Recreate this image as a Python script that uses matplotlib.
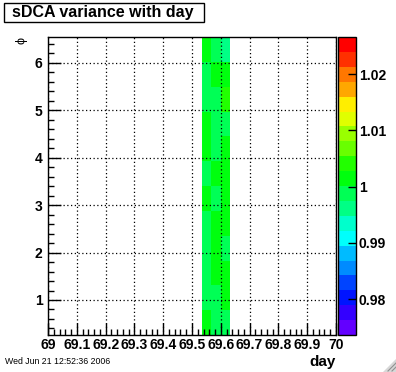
import numpy as np
import matplotlib
matplotlib.use('Agg')
import matplotlib.pyplot as plt
from matplotlib.colors import ListedColormap, BoundaryNorm, hsv_to_rgb
from matplotlib.ticker import FixedLocator, AutoMinorLocator
from matplotlib.patches import Rectangle, Polygon
from matplotlib.lines import Line2D

plt.rcParams['font.family'] = ['Liberation Sans', 'DejaVu Sans']

# data
day_edges = np.linspace(69, 70, 31)
phi_edges = np.pi / 12 + np.arange(13) * np.pi / 6
filled_cols = [16, 17, 18]          # day bins 69.533-69.633
# sDCA variance per phi bin (bottom -> top), one list per filled day bin
col_a = [1.0012, 0.9989, 0.9987, 0.9990, 0.9986, 1.0014, 0.9988, 1.0011, 1.0015, 0.9989, 0.9986, 1.0012]
col_b = [0.9990, 0.9987, 1.0013, 1.0016, 1.0010, 0.9988, 1.0014, 0.9986, 0.9989, 0.9991, 1.0015, 0.9989]
col_c = [0.9988, 1.0012, 1.0014, 0.9990, 1.0011, 1.0016, 1.0013, 1.0012, 0.9987, 1.0042, 1.0015, 0.9962]
zmin, zmax = 0.9736, 1.0266
xticks = [69.0, 69.1, 69.2, 69.3, 69.4, 69.5, 69.6, 69.7, 69.8, 69.9, 70.0]
xticklabels = ['69', '69.1', '69.2', '69.3', '69.4', '69.5', '69.6', '69.7', '69.8', '69.9', '70']
yticks = [1, 2, 3, 4, 5, 6]
zticks = [0.98, 0.99, 1.00, 1.01, 1.02]
zticklabels = ['0.98', '0.99', '1', '1.01', '1.02']

z = np.full((12, 30), np.nan)
for c, vals in zip(filled_cols, [col_a, col_b, col_c]):
    z[:, c] = vals
z = np.ma.masked_invalid(z)

# ROOT "pretty" palette, 20 contour levels
ncont = 20
cols = []
for k in range(ncont):
    idx = int((k + 0.99) * 50 / ncont)
    hue = 280 - (idx + 1) * 5.6
    cols.append(hsv_to_rgb([(hue % 360) / 360.0, 1.0, 1.0]))
cmap = ListedColormap(cols)
levels = np.linspace(zmin, zmax, ncont + 1)
norm = BoundaryNorm(levels, cmap.N)

W, H = 396, 372
fig = plt.figure(figsize=(W / 100, H / 100), dpi=100)
fx = lambda px: px / W
fy = lambda py: 1 - py / H

ax = fig.add_axes([fx(48), fy(335), 288 / W, 298 / H])
mesh = ax.pcolormesh(day_edges, phi_edges, z, cmap=cmap, norm=norm)
ax.set_xlim(69, 70)
ax.set_ylim(phi_edges[0], phi_edges[-1])

ax.xaxis.set_major_locator(FixedLocator(xticks))
ax.set_xticklabels(xticklabels)
ax.yaxis.set_major_locator(FixedLocator(yticks))
ax.xaxis.set_minor_locator(AutoMinorLocator(5))
ax.yaxis.set_minor_locator(AutoMinorLocator(5))
ax.tick_params(which='both', direction='in', width=1, colors='black', labelsize=10)
ax.tick_params(which='major', length=9)
ax.tick_params(which='minor', length=4.5)
ax.tick_params(axis='x', pad=2)
ax.tick_params(axis='y', pad=4)
for lab in ax.get_xticklabels() + ax.get_yticklabels():
    lab.set_fontweight('bold')
ax.grid(True, which='major', color='black', linestyle=(0, (1, 2)), linewidth=0.9)
ax.set_axisbelow(False)
for s in ax.spines.values():
    s.set_linewidth(1)

cax = fig.add_axes([fx(338), fy(335), 18 / W, 298 / H])
cb = fig.colorbar(mesh, cax=cax, ticks=zticks)
cb.ax.set_yticklabels(zticklabels)
cb.outline.set_linewidth(1)
cax.tick_params(which='both', direction='in', length=6, width=1, labelsize=10, pad=2)
cax.minorticks_off()
for lab in cax.get_yticklabels():
    lab.set_fontweight('bold')

# title box
fig.patches.append(Rectangle((fx(4), fy(22)), 200 / W, 19 / H, transform=fig.transFigure,
                             facecolor='white', edgecolor='black', linewidth=1))
fig.text(fx(12), fy(12.5), 'sDCA variance with day', fontsize=11.5, fontweight='bold',
         ha='left', va='center')

fig.text(fx(21), fy(41), 'ϕ', rotation=90, fontsize=9, ha='center', va='center')
fig.text(fx(336), fy(362), 'day', fontsize=11, fontweight='bold', ha='right', va='center')
fig.text(fx(5), fy(362), 'Wed Jun 21 12:52:36 2006', fontsize=6.3, ha='left', va='center')

# resize grip
fig.patches.append(Polygon([(fx(383), fy(372)), (fx(396), fy(372)), (fx(396), fy(359))],
                           closed=True, transform=fig.transFigure, facecolor='#d8d8d8', edgecolor='none'))
for off in [4, 8]:
    fig.lines.append(Line2D([fx(396 - off), fx(396)], [fy(371), fy(371 - off)],
                            transform=fig.transFigure, color='#909090', linewidth=0.8))

fig.savefig('out.png', dpi=100, facecolor='white')
